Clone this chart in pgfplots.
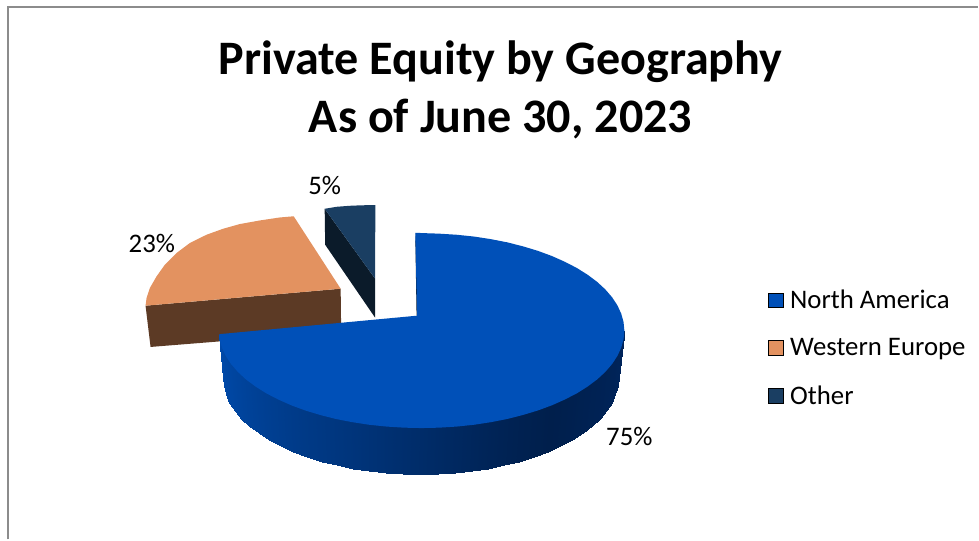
\documentclass[border=0pt]{standalone}
\usepackage{pgfplots}
\pgfplotsset{compat=1.18}
\usepackage{fontspec}
\setmainfont{Carlito}
\definecolor{blueTop}{RGB}{0,80,184}
\definecolor{orangeTop}{RGB}{227,146,96}
\definecolor{orangeSide}{RGB}{92,58,37}
\definecolor{navyTop}{RGB}{26,62,98}
\definecolor{navySide}{RGB}{11,27,42}
\definecolor{frame}{RGB}{140,140,140}
\begin{document}
\begin{tikzpicture}
\begin{axis}[
    scale only axis,
    width=734.25pt, height=405pt,
    xmin=0, xmax=979, ymin=0, ymax=540,
    y dir=reverse,
    hide axis,
    clip=false,
    colormap={sideblue}{rgb255(0)=(0,37,92); rgb255(90)=(0,31,76); rgb255(400)=(0,74,170)},
    point meta min=0, point meta max=400,
    legend image code/.code={\fill[#1] (0pt,-5.6pt) rectangle (11.25pt,5.6pt); \path (15.5pt,0pt);},
    legend cell align=left,
    legend style={draw=none, fill=none, at={(axis cs:765.5,286)}, anchor=north west,
        font=\fontsize{20.1}{24}\selectfont, row sep=18.9pt,
        inner xsep=2pt, inner ysep=2pt,
        nodes={inner sep=1pt}},
]
% keeps the whole page in the bounding box, hide axis would not
\path (axis cs:0,0) rectangle (axis cs:979,540);

% frame
\addplot[forget plot, frame, line width=1.5pt] coordinates {(8.5,540) (8.5,7.5) (979,7.5)};

% Other slice
\addplot[forget plot, fill=navySide, draw=none] coordinates {(325,209) (375.5,279) (375.5,318) (325.5,245)} -- cycle;
\addplot[forget plot, fill=navyTop, draw=none] coordinates {(325,209) (337,207) (350,206) (362,205.5) (375.7,205.3) (375.5,279)} -- cycle;

% Western Europe slice
\addplot[forget plot, fill=orangeSide, draw=none] coordinates {(145.7,306) (341,289) (341.5,332) (150.7,347.3)} -- cycle;
\addplot[forget plot, fill=orangeTop, draw=none] coordinates {
    (145.7,306) (146.7,298.3) (150,288.3) (156.7,276.7) (165,265) (176.7,253.3)
    (190,243.3) (206.7,235) (223.3,229) (240,224.3) (260,220.7) (280,217.7)
    (294,216.5) (341,289)} -- cycle;

% North America slice, rim then top (upper rim row tucked under the top)
\addplot[forget plot, surf, shader=interp, mesh/rows=2, point meta=\thisrow{c}] table {
x y c
625 331 0
624.2 336.5 8
621.9 344.9 16
618.1 353.2 24
612.8 361.3 32
606.0 369.2 40
597.8 376.8 48
588.3 383.9 56
577.5 390.7 68
565.5 396.9 80
552.5 402.7 90
538.4 407.9 98
523.5 412.4 106
507.8 416.4 116
491.4 419.6 128
474.5 422.2 142
457.2 424.0 156
439.7 425.1 170
422 425.5 185
404.3 425.1 200
386.8 424.0 215
369.5 422.2 230
352.6 419.6 245
336.2 416.4 258
320.5 412.4 270
305.6 407.9 282
291.5 402.7 295
278.5 396.9 308
266.5 390.7 320
255.7 383.9 332
246.2 376.8 344
238.0 369.2 356
231.2 361.3 366
225.9 353.2 376
222.1 344.9 385
220.2 337.5 393
219.6 335 400
619 378 0
618.2 386.5 8
616.0 394.8 16
612.3 403.1 24
607.1 411.2 32
600.4 419.0 40
592.5 426.5 48
583.2 433.6 56
572.7 440.4 68
561.0 446.6 80
548.3 452.3 90
534.6 457.5 98
520.0 462.0 106
504.7 465.9 116
488.7 469.2 128
472.2 471.7 142
455.4 473.5 156
438.3 474.6 170
421 475 185
403.7 474.6 200
386.6 473.5 215
369.8 471.7 230
353.3 469.2 245
337.3 465.9 258
322.0 462.0 270
307.4 457.5 282
293.7 452.3 295
281.0 446.6 308
269.3 440.4 320
258.8 433.6 332
249.5 426.5 344
241.6 419.0 356
234.9 411.2 366
229.7 403.1 376
226.0 394.8 385
223.8 386.5 393
223 378 400
};
\addplot[forget plot, fill=navySide, draw=none] coordinates {(415.7,233) (420.7,316) (417,316)} -- cycle;
\addplot[forget plot, fill=blueTop, draw=none] coordinates {
    (415.7,233) (422,233.3) (439.7,233.9) (457.2,235) (474.5,236.8) (491.4,239.4) (507.8,242.6)
    (523.5,246.6) (538.4,251.1) (552.5,256.3) (565.5,262.1) (577.5,268.3) (588.3,275.1)
    (597.8,282.2) (606,289.8) (612.8,297.7) (618.1,305.8) (621.9,314.1) (624.2,322.5)
    (625,331) (624.2,339.5) (621.9,347.9) (618.1,356.2) (612.8,364.3) (606,372.2)
    (597.8,379.8) (588.3,386.9) (577.5,393.7) (565.5,399.9) (552.5,405.7) (538.4,410.9)
    (523.5,415.4) (507.8,419.4) (491.4,422.6) (474.5,425.2) (457.2,427) (439.7,428.1)
    (422,428.5) (404.3,428.1) (386.8,427) (369.5,425.2) (352.6,422.6) (336.2,419.4)
    (320.5,415.4) (305.6,410.9) (291.5,405.7) (278.5,399.9) (266.5,393.7) (255.7,386.9)
    (246.2,379.8) (238,372.2) (231.2,364.3) (225.9,356.2) (222.1,347.9) (219.8,339.5)
    (219.5,334.5) (417.5,316)} -- cycle;

\addlegendimage{fill=blueTop}
\addlegendimage{fill=orangeTop}
\addlegendimage{fill=navyTop}
\legend{North America, Western Europe, Other}

\node[align=center, font=\fontsize{36.1}{43.5}\selectfont\bfseries] at (axis cs:501,90)
    {Private Equity by Geography\\As of June 30, 2023};
\node[font=\fontsize{20.1}{24}\selectfont] at (axis cs:630,437) {75\%};
\node[font=\fontsize{20.1}{24}\selectfont] at (axis cs:152,244) {23\%};
\node[font=\fontsize{20.1}{24}\selectfont] at (axis cs:325,186) {5\%};
\end{axis}
\end{tikzpicture}
\end{document}
